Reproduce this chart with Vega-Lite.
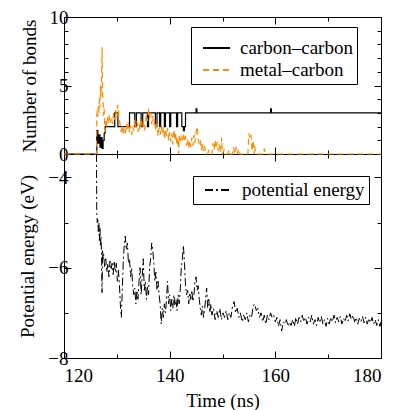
{
  "$schema": "https://vega.github.io/schema/vega-lite/v6.json",
  "autosize": {"type": "none"},
  "width": 317,
  "height": 341,
  "padding": {"left": 64, "top": 17, "right": 15, "bottom": 52},
  "config": {
    "font": "Liberation Serif",
    "view": {"stroke": "black", "strokeWidth": 1},
    "axis": {"grid": false, "domain": false, "domainColor": "black", "domainWidth": 1, "tickColor": "black", "labelColor": "black", "titleColor": "black", "labelFont": "Liberation Serif", "titleFont": "Liberation Serif", "labelFontSize": 19, "titleFontSize": 19, "titleFontWeight": "normal", "tickWidth": 1},
    "legend": {"labelFont": "Liberation Serif", "labelFontSize": 19, "labelColor": "black", "strokeColor": "black", "fillColor": "white", "padding": 4, "symbolOffset": 7, "labelOffset": 9, "rowPadding": 2, "clipHeight": 20, "symbolType": "stroke", "symbolSize": 729, "symbolStrokeWidth": 2, "labelLimit": 300, "direction": "vertical", "cornerRadius": 0}
  },
  "datasets": {
    "cc": [
      {"t":120,"v":0},{"t":126.2,"v":1.7},{"t":126.4,"v":0.8},{"t":126.6,"v":1.4},{"t":126.8,"v":0.5},{"t":127.0,"v":1.2},{"t":127.2,"v":0.4},{"t":127.4,"v":1.0},{"t":127.6,"v":1.5},{"t":127.8,"v":2},{"t":129.6,"v":3},{"t":130.2,"v":2},{"t":132.4,"v":3},{"t":133.4,"v":2},{"t":133.7,"v":3},{"t":134.6,"v":2},{"t":134.9,"v":3},{"t":135.8,"v":2},{"t":136.0,"v":3},{"t":137.3,"v":2},{"t":137.6,"v":3},{"t":138.1,"v":2},{"t":138.3,"v":3},{"t":139.0,"v":2},{"t":139.2,"v":3},{"t":140.0,"v":2},{"t":140.2,"v":3},{"t":141.3,"v":2},{"t":141.5,"v":3},{"t":142.3,"v":2},{"t":142.6,"v":1.7},{"t":142.8,"v":2},{"t":143.0,"v":3},{"t":145.0,"v":3.3},{"t":145.15,"v":3},{"t":159.1,"v":3.3},{"t":159.25,"v":3},{"t":180,"v":3}
    ],
    "mc": [
      {"t":120,"v":0},{"t":126.15,"v":0},{"t":126.2,"v":2.8},{"t":126.3,"v":3.2},{"t":126.4,"v":2.7},{"t":126.5,"v":3.5},{"t":126.6,"v":3.0},{"t":126.7,"v":4.0},{"t":126.8,"v":3.4},{"t":126.9,"v":5.0},{"t":127.0,"v":4.2},{"t":127.1,"v":5.3},{"t":127.2,"v":7.8},{"t":127.3,"v":4.5},{"t":127.4,"v":3.6},{"t":127.5,"v":2.8},{"t":127.6,"v":3.3},{"t":127.7,"v":2.2},{"t":127.8,"v":1.6},{"t":127.9,"v":2.4},{"t":128.0,"v":2.0},{"t":128.2,"v":2.7},{"t":128.4,"v":2.2},{"t":128.6,"v":2.9},{"t":128.8,"v":2.3},{"t":129.0,"v":2.6},{"t":129.2,"v":2.2},{"t":129.4,"v":3.0},{"t":129.6,"v":2.5},{"t":129.8,"v":3.2},{"t":130.0,"v":2.6},{"t":130.2,"v":3.6},{"t":130.4,"v":2.8},{"t":130.6,"v":2.2},{"t":130.8,"v":1.6},{"t":131.0,"v":2.1},{"t":131.2,"v":1.4},{"t":131.4,"v":1.9},{"t":131.6,"v":1.5},{"t":131.8,"v":2.2},{"t":132.0,"v":1.7},{"t":132.2,"v":2.3},{"t":132.4,"v":1.6},{"t":132.6,"v":2.1},{"t":132.8,"v":1.4},{"t":133.0,"v":2.0},{"t":133.2,"v":1.7},{"t":133.4,"v":2.5},{"t":133.6,"v":1.9},{"t":133.8,"v":2.4},{"t":134.0,"v":1.6},{"t":134.2,"v":2.2},{"t":134.4,"v":1.8},{"t":134.6,"v":2.6},{"t":134.8,"v":2.0},{"t":135.0,"v":2.4},{"t":135.2,"v":1.7},{"t":135.4,"v":2.3},{"t":135.6,"v":2.9},{"t":135.8,"v":2.4},{"t":136.0,"v":3.3},{"t":136.2,"v":2.6},{"t":136.4,"v":3.0},{"t":136.6,"v":2.2},{"t":136.8,"v":2.8},{"t":137.0,"v":2.1},{"t":137.2,"v":2.5},{"t":137.4,"v":1.7},{"t":137.6,"v":2.2},{"t":137.8,"v":1.3},{"t":138.0,"v":1.9},{"t":138.2,"v":1.4},{"t":138.4,"v":2.1},{"t":138.6,"v":1.5},{"t":138.8,"v":2.0},{"t":139.0,"v":1.1},{"t":139.2,"v":1.8},{"t":139.4,"v":1.3},{"t":139.6,"v":1.9},{"t":139.8,"v":1.0},{"t":140.0,"v":1.6},{"t":140.2,"v":0.9},{"t":140.4,"v":1.5},{"t":140.6,"v":0.7},{"t":140.8,"v":1.8},{"t":141.0,"v":1.0},{"t":141.2,"v":1.5},{"t":141.4,"v":0.6},{"t":141.6,"v":1.2},{"t":141.7,"v":0.0},{"t":141.8,"v":1.3},{"t":142.0,"v":0.8},{"t":142.2,"v":1.4},{"t":142.4,"v":1.0},{"t":142.6,"v":1.5},{"t":142.8,"v":0.9},{"t":143.0,"v":1.3},{"t":143.2,"v":0.6},{"t":143.4,"v":1.1},{"t":143.6,"v":0.4},{"t":143.8,"v":1.0},{"t":144.0,"v":0.5},{"t":144.2,"v":1.2},{"t":144.4,"v":0.6},{"t":144.6,"v":1.4},{"t":144.8,"v":0.8},{"t":145.0,"v":1.6},{"t":145.2,"v":2.0},{"t":145.4,"v":1.1},{"t":145.6,"v":0.7},{"t":145.8,"v":1.0},{"t":146.0,"v":0.3},{"t":146.2,"v":0.8},{"t":146.4,"v":0.2},{"t":146.6,"v":0.6},{"t":146.8,"v":0.0},{"t":147.2,"v":0.0},{"t":147.4,"v":0.3},{"t":147.6,"v":0.0},{"t":148.0,"v":0.0},{"t":148.2,"v":0.8},{"t":148.4,"v":0.3},{"t":148.6,"v":1.0},{"t":148.8,"v":0.4},{"t":149.0,"v":0.9},{"t":149.2,"v":0.2},{"t":149.4,"v":0.7},{"t":149.6,"v":0.1},{"t":149.85,"v":1.2},{"t":150.0,"v":0.0},{"t":150.3,"v":0.3},{"t":150.5,"v":0.0},{"t":151.0,"v":0.0},{"t":151.2,"v":0.3},{"t":151.4,"v":0.0},{"t":151.9,"v":0.0},{"t":152.1,"v":0.5},{"t":152.3,"v":0.0},{"t":152.6,"v":0.5},{"t":152.8,"v":0.0},{"t":153.0,"v":0.4},{"t":153.2,"v":0.0},{"t":154.8,"v":0.0},{"t":155.0,"v":1.5},{"t":155.2,"v":1.1},{"t":155.4,"v":1.4},{"t":155.6,"v":0.2},{"t":155.8,"v":1.0},{"t":156.0,"v":0.0},{"t":156.1,"v":0.6},{"t":156.3,"v":0.0},{"t":157.8,"v":0.0},{"t":157.9,"v":0.4},{"t":158.1,"v":0.0},{"t":180,"v":0}
    ],
    "pe": [
      {"t":126.15,"v":-3.48},{"t":126.2,"v":-4.8},{"t":126.3,"v":-5.0},{"t":126.4,"v":-4.9},{"t":126.5,"v":-5.2},{"t":126.6,"v":-5.0},{"t":126.7,"v":-5.4},{"t":126.8,"v":-5.1},{"t":126.9,"v":-5.5},{"t":127.0,"v":-5.3},{"t":127.1,"v":-5.7},{"t":127.2,"v":-6.55},{"t":127.3,"v":-5.6},{"t":127.4,"v":-5.8},{"t":127.5,"v":-5.7},{"t":127.7,"v":-6.0},{"t":127.9,"v":-5.8},{"t":128.1,"v":-6.1},{"t":128.3,"v":-5.9},{"t":128.5,"v":-6.2},{"t":128.7,"v":-5.85},{"t":128.9,"v":-6.05},{"t":129.1,"v":-5.9},{"t":129.3,"v":-6.15},{"t":129.5,"v":-5.85},{"t":129.7,"v":-6.1},{"t":129.9,"v":-5.9},{"t":130.1,"v":-6.3},{"t":130.3,"v":-6.05},{"t":130.5,"v":-6.4},{"t":130.7,"v":-6.9},{"t":130.85,"v":-7.1},{"t":131.0,"v":-6.6},{"t":131.2,"v":-5.9},{"t":131.4,"v":-5.5},{"t":131.6,"v":-5.3},{"t":131.8,"v":-5.6},{"t":132.0,"v":-5.45},{"t":132.2,"v":-5.9},{"t":132.4,"v":-5.8},{"t":132.6,"v":-6.2},{"t":132.8,"v":-6.0},{"t":133.0,"v":-6.4},{"t":133.2,"v":-6.6},{"t":133.4,"v":-6.45},{"t":133.6,"v":-6.8},{"t":133.8,"v":-6.5},{"t":134.0,"v":-6.7},{"t":134.2,"v":-6.3},{"t":134.4,"v":-6.0},{"t":134.6,"v":-6.6},{"t":134.8,"v":-6.2},{"t":135.0,"v":-5.8},{"t":135.2,"v":-6.5},{"t":135.4,"v":-6.3},{"t":135.6,"v":-6.7},{"t":135.8,"v":-6.4},{"t":136.0,"v":-6.6},{"t":136.2,"v":-6.0},{"t":136.4,"v":-5.8},{"t":136.6,"v":-5.45},{"t":136.8,"v":-5.6},{"t":137.0,"v":-5.9},{"t":137.2,"v":-6.3},{"t":137.4,"v":-6.1},{"t":137.6,"v":-6.5},{"t":137.8,"v":-6.3},{"t":138.0,"v":-6.6},{"t":138.2,"v":-6.8},{"t":138.4,"v":-7.25},{"t":138.6,"v":-6.9},{"t":138.8,"v":-7.1},{"t":139.0,"v":-6.8},{"t":139.2,"v":-7.0},{"t":139.4,"v":-6.7},{"t":139.6,"v":-6.3},{"t":139.8,"v":-6.8},{"t":140.0,"v":-6.6},{"t":140.2,"v":-6.95},{"t":140.4,"v":-6.7},{"t":140.6,"v":-6.9},{"t":140.8,"v":-6.6},{"t":141.0,"v":-6.85},{"t":141.2,"v":-6.7},{"t":141.4,"v":-6.95},{"t":141.6,"v":-6.6},{"t":141.8,"v":-6.8},{"t":142.0,"v":-6.5},{"t":142.2,"v":-6.0},{"t":142.4,"v":-5.8},{"t":142.6,"v":-5.5},{"t":142.8,"v":-5.9},{"t":143.0,"v":-6.4},{"t":143.2,"v":-6.6},{"t":143.4,"v":-6.5},{"t":143.6,"v":-6.8},{"t":143.8,"v":-6.55},{"t":144.0,"v":-6.7},{"t":144.2,"v":-6.5},{"t":144.4,"v":-6.75},{"t":144.6,"v":-6.6},{"t":144.8,"v":-6.3},{"t":145.0,"v":-6.2},{"t":145.2,"v":-6.5},{"t":145.4,"v":-6.4},{"t":145.6,"v":-6.7},{"t":145.8,"v":-6.9},{"t":146.0,"v":-7.05},{"t":146.2,"v":-6.85},{"t":146.4,"v":-7.1},{"t":146.6,"v":-6.95},{"t":146.8,"v":-6.7},{"t":147.0,"v":-6.45},{"t":147.2,"v":-6.9},{"t":147.4,"v":-6.7},{"t":147.6,"v":-7.0},{"t":147.8,"v":-6.8},{"t":148.0,"v":-7.05},{"t":148.3,"v":-6.9},{"t":148.6,"v":-7.15},{"t":148.9,"v":-6.95},{"t":149.2,"v":-7.1},{"t":149.5,"v":-6.9},{"t":149.8,"v":-7.15},{"t":150.1,"v":-7.0},{"t":150.4,"v":-7.1},{"t":150.7,"v":-6.95},{"t":151.0,"v":-7.15},{"t":151.3,"v":-7.0},{"t":151.6,"v":-7.1},{"t":151.9,"v":-6.85},{"t":152.2,"v":-6.75},{"t":152.5,"v":-7.0},{"t":152.8,"v":-6.9},{"t":153.1,"v":-7.1},{"t":153.4,"v":-7.0},{"t":153.7,"v":-7.2},{"t":154.0,"v":-7.05},{"t":154.3,"v":-7.15},{"t":154.6,"v":-7.0},{"t":154.9,"v":-7.2},{"t":155.2,"v":-7.05},{"t":155.5,"v":-7.1},{"t":155.8,"v":-6.85},{"t":156.1,"v":-6.8},{"t":156.4,"v":-6.95},{"t":156.7,"v":-6.9},{"t":157.0,"v":-7.1},{"t":157.3,"v":-7.0},{"t":157.6,"v":-7.2},{"t":157.9,"v":-7.05},{"t":158.2,"v":-7.25},{"t":158.5,"v":-7.05},{"t":158.8,"v":-7.15},{"t":159.1,"v":-7.0},{"t":159.4,"v":-7.1},{"t":159.7,"v":-7.05},{"t":160.0,"v":-7.2},{"t":160.3,"v":-7.1},{"t":160.6,"v":-7.3},{"t":160.9,"v":-7.15},{"t":161.2,"v":-7.4},{"t":161.5,"v":-7.2},{"t":161.8,"v":-7.25},{"t":162.1,"v":-7.15},{"t":162.4,"v":-7.3},{"t":162.7,"v":-7.2},{"t":163.0,"v":-7.28},{"t":163.3,"v":-7.15},{"t":163.6,"v":-7.3},{"t":163.9,"v":-7.1},{"t":164.2,"v":-7.25},{"t":164.5,"v":-7.1},{"t":164.8,"v":-7.2},{"t":165.1,"v":-7.05},{"t":165.4,"v":-7.2},{"t":165.7,"v":-7.1},{"t":166.0,"v":-7.25},{"t":166.3,"v":-7.1},{"t":166.6,"v":-7.2},{"t":166.9,"v":-7.05},{"t":167.2,"v":-7.25},{"t":167.5,"v":-7.15},{"t":167.8,"v":-7.28},{"t":168.1,"v":-7.1},{"t":168.4,"v":-7.22},{"t":168.7,"v":-7.08},{"t":169.0,"v":-7.25},{"t":169.3,"v":-7.15},{"t":169.6,"v":-7.3},{"t":169.9,"v":-7.12},{"t":170.2,"v":-7.25},{"t":170.5,"v":-7.1},{"t":170.8,"v":-7.2},{"t":171.1,"v":-7.05},{"t":171.4,"v":-7.22},{"t":171.7,"v":-7.1},{"t":172.0,"v":-7.2},{"t":172.3,"v":-7.08},{"t":172.6,"v":-7.25},{"t":172.9,"v":-7.12},{"t":173.2,"v":-7.2},{"t":173.5,"v":-7.05},{"t":173.8,"v":-7.18},{"t":174.1,"v":-7.02},{"t":174.4,"v":-7.15},{"t":174.7,"v":-7.05},{"t":175.0,"v":-7.2},{"t":175.3,"v":-7.1},{"t":175.6,"v":-7.25},{"t":175.9,"v":-7.12},{"t":176.2,"v":-7.2},{"t":176.5,"v":-7.08},{"t":176.8,"v":-7.22},{"t":177.1,"v":-7.1},{"t":177.4,"v":-7.25},{"t":177.7,"v":-7.12},{"t":178.0,"v":-7.22},{"t":178.3,"v":-7.1},{"t":178.6,"v":-7.25},{"t":178.9,"v":-7.15},{"t":179.2,"v":-7.28},{"t":179.5,"v":-7.15},{"t":179.8,"v":-7.3},{"t":180.0,"v":-7.2}
    ]
  },
  "layer": [
    {
      "data": {"name": "cc"},
      "mark": {"type": "line", "interpolate": "step-after", "strokeWidth": 1.2},
      "encoding": {
        "x": {"field": "t", "type": "quantitative", "scale": {"domain": [120, 180], "nice": false, "zero": false}, "axis": {"orient": "bottom", "values": [120, 140, 160, 180], "tickSize": -7, "labelPadding": 15, "title": "Time (ns)", "titlePadding": 6}},
        "y": {"field": "v", "type": "quantitative", "scale": {"domain": [0, 10], "range": [137, 0], "nice": false, "zero": false}, "axis": {"orient": "left", "values": [0, 5, 10], "tickSize": -7, "labelPadding": 3, "title": "Number of bonds", "titlePadding": 10}},
        "color": {"datum": "carbon–carbon", "type": "nominal", "scale": {"domain": ["carbon–carbon", "metal–carbon"], "range": ["black", "#ff8c00"]}, "legend": {"orient": "none", "legendX": 127, "legendY": 10, "title": " ", "titleFontSize": 2, "titlePadding": 5}},
        "strokeDash": {"datum": "carbon–carbon", "type": "nominal", "scale": {"domain": ["carbon–carbon", "metal–carbon"], "range": [[1, 0], [6, 4]]}, "legend": {"orient": "none", "legendX": 127, "legendY": 10, "title": " ", "titleFontSize": 2, "titlePadding": 5}}
      }
    },
    {
      "data": {"name": "mc"},
      "mark": {"type": "line", "strokeWidth": 1.2},
      "encoding": {
        "x": {"field": "t", "type": "quantitative", "axis": {"orient": "bottom", "values": [130, 150, 170], "labels": false, "tickSize": -4, "title": null}},
        "y": {"field": "v", "type": "quantitative", "scale": {"domain": [0, 10], "range": [137, 0], "nice": false, "zero": false}, "axis": {"orient": "left", "values": [1, 2, 3, 4, 6, 7, 8, 9], "labels": false, "tickSize": -4, "title": null}},
        "color": {"datum": "metal–carbon", "type": "nominal"},
        "strokeDash": {"datum": "metal–carbon", "type": "nominal"}
      }
    },
    {
      "data": {"name": "pe"},
      "mark": {"type": "line", "strokeWidth": 1, "color": "black", "strokeDash": [8, 3, 2, 3]},
      "encoding": {
        "x": {"field": "t", "type": "quantitative", "axis": {"orient": "top", "values": [120, 140, 160, 180], "labels": false, "tickSize": -7, "title": null}},
        "y": {"field": "v", "type": "quantitative", "scale": {"domain": [-8, -3.48], "range": [341, 137], "nice": false, "zero": false}, "axis": {"orient": "left", "values": [-8, -6, -4], "tickSize": -7, "labelPadding": 3, "title": "Potential energy (eV)", "titlePadding": 10}},
        "opacity": {"datum": "potential energy", "type": "nominal", "scale": {"domain": ["potential energy"], "range": [1]}, "legend": {"orient": "none", "legendX": 129, "legendY": 159, "title": null, "symbolDash": [8, 3, 2, 3], "symbolStrokeColor": "black", "symbolFillColor": "transparent"}}
      }
    },
    {
      "data": {"name": "cc"},
      "mark": {"type": "line", "strokeOpacity": 0},
      "encoding": {
        "x": {"field": "t", "type": "quantitative", "axis": {"orient": "top", "values": [130, 150, 170], "labels": false, "tickSize": -4, "title": null}},
        "y": {"field": "v", "type": "quantitative", "scale": {"domain": [0, 10], "range": [137, 0], "nice": false, "zero": false}, "axis": {"orient": "right", "values": [0, 5, 10], "labels": false, "tickSize": -7, "title": null}}
      }
    },
    {
      "data": {"name": "cc"},
      "mark": {"type": "line", "strokeOpacity": 0},
      "encoding": {
        "x": {"field": "t", "type": "quantitative", "axis": {"orient": "bottom", "offset": -204, "domain": true, "values": [120, 140, 160, 180], "labels": false, "tickSize": -7, "title": null}},
        "y": {"field": "v", "type": "quantitative", "scale": {"domain": [0, 10], "range": [137, 0], "nice": false, "zero": false}, "axis": {"orient": "right", "values": [1, 2, 3, 4, 6, 7, 8, 9], "labels": false, "tickSize": -4, "title": null}}
      }
    },
    {
      "data": {"name": "pe"},
      "mark": {"type": "line", "strokeOpacity": 0},
      "encoding": {
        "x": {"field": "t", "type": "quantitative", "axis": {"orient": "bottom", "offset": -204, "values": [130, 150, 170], "labels": false, "tickSize": -4, "title": null}},
        "y": {"field": "v", "type": "quantitative", "scale": {"domain": [-8, -3.48], "range": [341, 137], "nice": false, "zero": false}, "axis": {"orient": "left", "values": [-7, -5], "labels": false, "tickSize": -4, "title": null}}
      }
    },
    {
      "data": {"name": "pe"},
      "mark": {"type": "line", "strokeOpacity": 0},
      "encoding": {
        "x": {"field": "t", "type": "quantitative", "axis": {"orient": "top", "offset": -137, "values": [120, 140, 160, 180], "labels": false, "tickSize": -7, "title": null}},
        "y": {"field": "v", "type": "quantitative", "scale": {"domain": [-8, -3.48], "range": [341, 137], "nice": false, "zero": false}, "axis": {"orient": "right", "values": [-8, -6, -4], "labels": false, "tickSize": -7, "title": null}}
      }
    },
    {
      "data": {"name": "pe"},
      "mark": {"type": "line", "strokeOpacity": 0},
      "encoding": {
        "x": {"field": "t", "type": "quantitative", "axis": {"orient": "top", "offset": -137, "values": [130, 150, 170], "labels": false, "tickSize": -4, "title": null}},
        "y": {"field": "v", "type": "quantitative", "scale": {"domain": [-8, -3.48], "range": [341, 137], "nice": false, "zero": false}, "axis": {"orient": "right", "values": [-7, -5], "labels": false, "tickSize": -4, "title": null}}
      }
    }
  ],
  "resolve": {"scale": {"y": "independent"}, "axis": {"x": "independent", "y": "independent"}}
}
